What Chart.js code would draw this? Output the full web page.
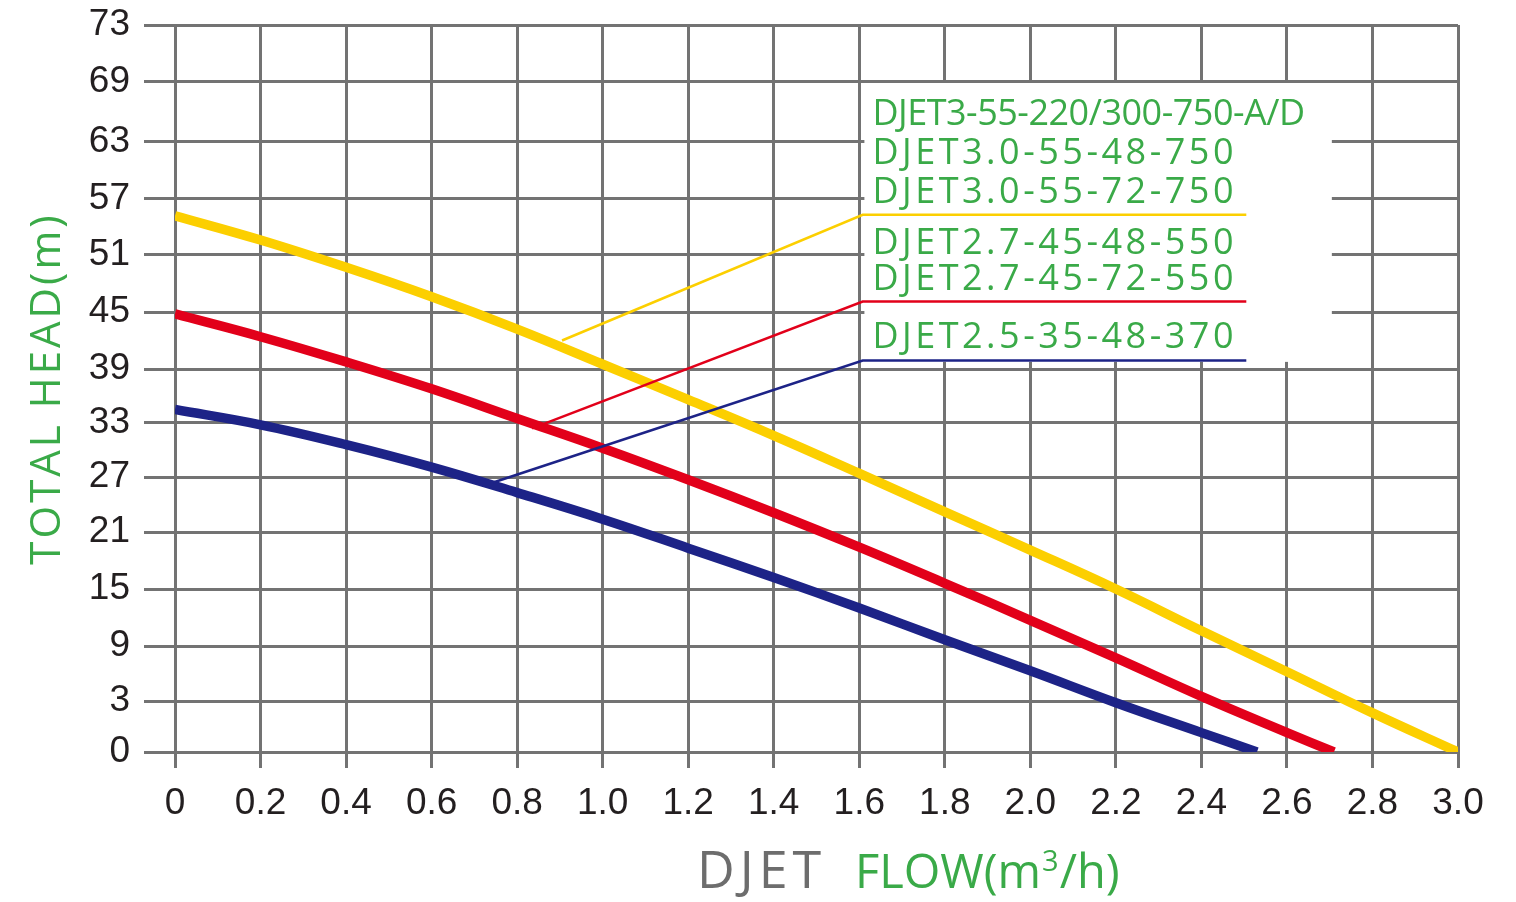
<!DOCTYPE html>
<html>
<head>
<meta charset="utf-8">
<title>DJET pump curves</title>
<script src="https://cdn.jsdelivr.net/npm/chart.js@4.4.1/dist/chart.umd.min.js"></script>
<style>
  html, body { margin: 0; padding: 0; background: #fff; }
  #wrap { width: 1516px; height: 902px; }
</style>
</head>
<body>
<div id="wrap"><canvas id="pumpChart" width="1516" height="902"></canvas></div>
<script>
// axis ticks
const flowTicks = [0, 0.2, 0.4, 0.6, 0.8, 1.0, 1.2, 1.4, 1.6, 1.8, 2.0, 2.2, 2.4, 2.6, 2.8, 3.0];
const flowLabels = ['0', '0.2', '0.4', '0.6', '0.8', '1.0', '1.2', '1.4', '1.6', '1.8', '2.0', '2.2', '2.4', '2.6', '2.8', '3.0'];
const headTicks = [0, 3, 9, 15, 21, 27, 33, 39, 45, 51, 57, 63, 69, 73];

// pump curves (flow m3/h -> head m)
const flowYellow = [0, 0.2, 0.4, 0.6, 0.8, 1.0, 1.2, 1.4, 1.6, 1.8, 2.0, 2.2, 2.4, 2.6, 2.8, 3.0];
const headYellow = [55.2, 52.6, 49.7, 46.6, 43.2, 39.5, 35.6, 31.6, 27.4, 23.2, 19.1, 15.0, 10.6, 6.2, 2.3, 0];

const flowRed = [0, 0.2, 0.4, 0.6, 0.8, 1.0, 1.2, 1.4, 1.6, 1.8, 2.0, 2.2, 2.4, 2.6, 2.71];
const headRed = [44.8, 42.4, 39.75, 36.8, 33.5, 30.2, 26.7, 23.1, 19.4, 15.6, 11.7, 7.7, 3.5, 1.14, 0];

const flowNavy = [0, 0.2, 0.4, 0.6, 0.8, 1.0, 1.2, 1.4, 1.6, 1.8, 2.0, 2.2, 2.4, 2.53];
const headNavy = [34.5, 32.8, 30.6, 28.1, 25.3, 22.4, 19.3, 16.2, 13.0, 9.65, 6.3, 2.9, 1.14, 0];

// leader lines from the curves to the model labels
const leaderFlowYellow = [0.905, 1.608, 2.505];
const leaderHeadYellow = [42.0, 55.3, 55.3];
const leaderFlowRed = [0.835, 1.608, 2.505];
const leaderHeadRed = [32.4, 46.1, 46.1];
const leaderFlowNavy = [0.744, 1.608, 2.505];
const leaderHeadNavy = [26.4, 39.9, 39.9];

// model names
const modelsYellow = ['DJET3-55-220/300-750-A/D', 'DJET3.0-55-48-750', 'DJET3.0-55-72-750'];
const modelsRed = ['DJET2.7-45-48-550', 'DJET2.7-45-72-550'];
const modelsNavy = ['DJET2.5-35-48-370'];

const GREEN = '#3aaa48';
const GRID = '#737373';

const toPoints = (xs, ys) => xs.map((x, i) => ({ x: x, y: ys[i] }));

// y axis: tick values are uneven, each tick interval gets its own height
// (options.intervals = relative height of every gap, bottom to top)
class StepScale extends Chart.LinearScale {
  buildTicks() {
    return headTicks.map(v => ({ value: v }));
  }
  _stops() {
    const w = this.options.intervals || headTicks.slice(1).map(() => 1);
    const total = w.reduce((a, b) => a + b, 0);
    const stops = [0];
    w.forEach(v => stops.push(stops[stops.length - 1] + v / total));
    return stops;
  }
  getPixelForValue(value) {
    const t = headTicks, n = t.length - 1, s = this._stops();
    let i = 0;
    while (i < n - 1 && value > t[i + 1]) i++;
    const f = (value - t[i]) / (t[i + 1] - t[i]);
    return this.getPixelForDecimal(s[i] + f * (s[i + 1] - s[i]));
  }
  getValueForPixel(pixel) {
    const t = headTicks, n = t.length - 1, s = this._stops();
    const d = this.getDecimalForPixel(pixel);
    let i = 0;
    while (i < n - 1 && d > s[i + 1]) i++;
    return t[i] + (d - s[i]) / (s[i + 1] - s[i]) * (t[i + 1] - t[i]);
  }
}
StepScale.id = 'step';
StepScale.defaults = Chart.LinearScale.defaults;
Chart.register(StepScale);

// white label box behind the model names
const labelBox = {
  id: 'labelBox',
  beforeDatasetsDraw(chart) {
    const { ctx, scales: { x, y } } = chart;
    const left = x.getPixelForValue(1.612);
    const right = x.getPixelForValue(2.705);
    const top = y.getPixelForValue(69) + 1;
    const bottom = y.getPixelForValue(39.75);
    ctx.save();
    ctx.fillStyle = '#fff';
    ctx.fillRect(left, top, right - left, bottom - top);
    ctx.restore();
  },
  afterDatasetsDraw(chart) {
    const { ctx, scales: { x, y } } = chart;
    const textX = x.getPixelForValue(1.612) + 8;
    const groups = [
      [modelsYellow, leaderHeadYellow[2], 39],
      [modelsRed, leaderHeadRed[2], 36],
      [modelsNavy, leaderHeadNavy[2], 36]
    ];
    ctx.save();
    ctx.fillStyle = GREEN;
    ctx.textAlign = 'left';
    ctx.textBaseline = 'alphabetic';
    groups.forEach(([names, head, gap]) => {
      const lineY = y.getPixelForValue(head);
      names.forEach((name, k) => {
        const base = lineY - 12 - (names.length - 1 - k) * gap;
        const condensed = name.indexOf('/') >= 0;
        ctx.font = '36px "Open Sans"';
        ctx.letterSpacing = condensed ? '-0.5px' : '3.5px';
        ctx.fillText(name, textX, base);
      });
    });
    ctx.restore();
  }
};

// axis titles
const axisTitles = {
  id: 'axisTitles',
  afterDraw(chart) {
    const { ctx, chartArea } = chart;
    ctx.save();
    // y title
    ctx.translate(48, (chartArea.top + chartArea.bottom) / 2);
    ctx.rotate(-Math.PI / 2);
    ctx.font = '42px "Open Sans"';
    ctx.letterSpacing = '3px';
    ctx.fillStyle = GREEN;
    ctx.textAlign = 'center';
    ctx.textBaseline = 'middle';
    ctx.fillText('TOTAL HEAD(m)', 0, 0);
    ctx.restore();

    // x title: grey "DJET" followed by green "FLOW(m³/h)"
    ctx.save();
    ctx.textAlign = 'left';
    ctx.textBaseline = 'alphabetic';
    const base = 888;
    ctx.font = '52px "Open Sans"';
    ctx.letterSpacing = '5px';
    ctx.fillStyle = '#6d6d6d';
    ctx.fillText('DJET', chartArea.left + 522, base);

    let tx = chartArea.left + 680;
    ctx.letterSpacing = '0px';
    ctx.fillStyle = GREEN;
    ctx.font = '47px "Open Sans"';
    ctx.fillText('FLOW(m', tx, base);
    tx += ctx.measureText('FLOW(m').width + 1;
    ctx.font = '29px "Open Sans"';
    ctx.fillText('3', tx, base - 17);
    tx += ctx.measureText('3').width + 1;
    ctx.font = '47px "Open Sans"';
    ctx.fillText('/h)', tx, base);
    ctx.restore();
  }
};

const curveStyle = {
  borderWidth: 9.5,
  pointRadius: 0,
  tension: 0.4,
  fill: false,
  order: 1
};
const leaderStyle = {
  borderWidth: 2.5,
  pointRadius: 0,
  tension: 0,
  fill: false,
  order: 0
};

const ctx = document.getElementById('pumpChart').getContext('2d');
const pumpChart = new Chart(ctx, {
  type: 'line',
  data: {
    datasets: [
      Object.assign({ label: 'DJET3.0', data: toPoints(flowYellow, headYellow), borderColor: '#fccf00' }, curveStyle),
      Object.assign({ label: 'DJET2.7', data: toPoints(flowRed, headRed), borderColor: '#e2001a' }, curveStyle),
      Object.assign({ label: 'DJET2.5', data: toPoints(flowNavy, headNavy), borderColor: '#1d2387' }, curveStyle),
      Object.assign({ label: 'leader3.0', data: toPoints(leaderFlowYellow, leaderHeadYellow), borderColor: '#fccf00' }, leaderStyle),
      Object.assign({ label: 'leader2.7', data: toPoints(leaderFlowRed, leaderHeadRed), borderColor: '#e2001a' }, leaderStyle),
      Object.assign({ label: 'leader2.5', data: toPoints(leaderFlowNavy, leaderHeadNavy), borderColor: '#1d2387' }, leaderStyle)
    ]
  },
  options: {
    responsive: false,
    animation: false,
    layout: { padding: { top: 25, right: 58, bottom: 0, left: 0 } },
    plugins: {
      legend: { display: false },
      tooltip: { enabled: false }
    },
    scales: {
      x: {
        type: 'linear',
        min: 0,
        max: 3,
        afterBuildTicks: scale => { scale.ticks = flowTicks.map(v => ({ value: v })); },
        afterFit: scale => { scale.height = 150; },
        grid: { color: GRID, lineWidth: 3, tickLength: 16 },
        border: { color: GRID, width: 3 },
        ticks: {
          callback: (v, i) => flowLabels[i],
          color: '#231f20',
          font: { family: '"Liberation Sans", Arial, sans-serif', size: 37 },
          padding: 14,
          maxRotation: 0,
          autoSkip: false
        }
      },
      y: {
        type: 'step',
        min: 0,
        max: 73,
        intervals: [51, 55, 57, 57, 55, 54, 54, 57, 57, 56, 57, 60, 57],
        afterFit: scale => {
          scale.width = 175;
          scale.paddingTop = 0;
          scale.paddingBottom = 0;
        },
        grid: { color: GRID, lineWidth: 3, tickLength: 31 },
        border: { color: GRID, width: 3 },
        ticks: {
          callback: (v, i) => String(headTicks[i]),
          color: '#231f20',
          font: { family: '"Liberation Sans", Arial, sans-serif', size: 37 },
          padding: 14,
          autoSkip: false
        }
      }
    }
  },
  plugins: [labelBox, axisTitles]
});
</script>
</body>
</html>
